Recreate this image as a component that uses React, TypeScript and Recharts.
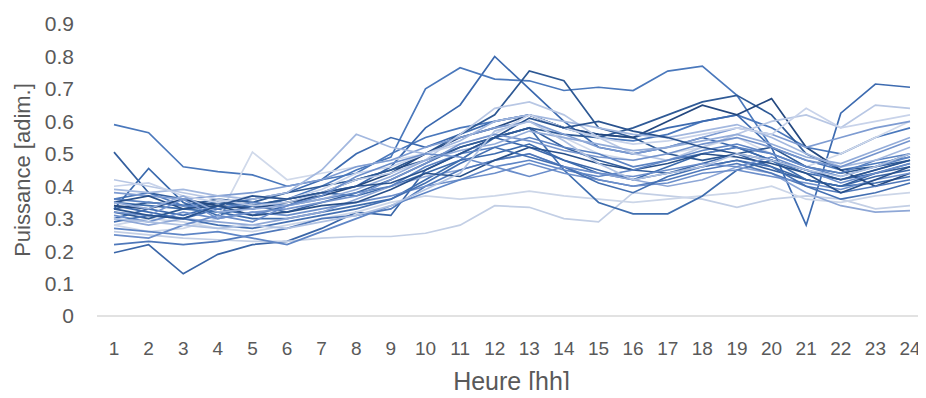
import { LineChart, Line, XAxis, YAxis, Label } from "recharts";

const hours = ["1", "2", "3", "4", "5", "6", "7", "8", "9", "10", "11", "12", "13", "14", "15", "16", "17", "18", "19", "20", "21", "22", "23", "24"];
const yTicks = [0, 0.1, 0.2, 0.3, 0.4, 0.5, 0.6, 0.7, 0.8, 0.9];

const s1 = [0.59, 0.565, 0.46, 0.445, 0.435, 0.40, 0.42, 0.44, 0.50, 0.55, 0.58, 0.60, 0.62, 0.58, 0.55, 0.54, 0.56, 0.60, 0.62, 0.58, 0.52, 0.50, 0.55, 0.58];
const s2 = [0.195, 0.22, 0.13, 0.19, 0.22, 0.23, 0.27, 0.32, 0.31, 0.45, 0.50, 0.55, 0.52, 0.48, 0.45, 0.42, 0.44, 0.47, 0.50, 0.46, 0.42, 0.40, 0.43, 0.45];
const s3 = [0.34, 0.32, 0.30, 0.33, 0.31, 0.34, 0.38, 0.40, 0.46, 0.58, 0.65, 0.80, 0.70, 0.60, 0.52, 0.50, 0.52, 0.55, 0.52, 0.48, 0.45, 0.42, 0.44, 0.47];
const s4 = [0.36, 0.38, 0.34, 0.35, 0.33, 0.36, 0.40, 0.45, 0.49, 0.70, 0.765, 0.73, 0.725, 0.695, 0.705, 0.695, 0.755, 0.77, 0.68, 0.52, 0.48, 0.45, 0.47, 0.49];
const s5 = [0.30, 0.33, 0.31, 0.34, 0.36, 0.38, 0.42, 0.50, 0.55, 0.52, 0.56, 0.60, 0.62, 0.58, 0.56, 0.55, 0.58, 0.60, 0.62, 0.52, 0.28, 0.625, 0.715, 0.705];
const s6 = [0.505, 0.38, 0.36, 0.33, 0.34, 0.32, 0.35, 0.38, 0.42, 0.47, 0.52, 0.55, 0.58, 0.52, 0.48, 0.45, 0.44, 0.46, 0.48, 0.45, 0.42, 0.40, 0.44, 0.46];
const s7 = [0.33, 0.455, 0.35, 0.31, 0.34, 0.36, 0.38, 0.37, 0.40, 0.44, 0.48, 0.50, 0.53, 0.48, 0.44, 0.42, 0.46, 0.50, 0.52, 0.48, 0.44, 0.42, 0.45, 0.48];
const s8 = [0.28, 0.26, 0.27, 0.30, 0.505, 0.42, 0.44, 0.46, 0.48, 0.50, 0.55, 0.58, 0.60, 0.55, 0.50, 0.48, 0.50, 0.52, 0.55, 0.50, 0.46, 0.50, 0.55, 0.60];
const s9 = [0.26, 0.25, 0.24, 0.235, 0.23, 0.23, 0.24, 0.245, 0.245, 0.255, 0.28, 0.34, 0.335, 0.30, 0.29, 0.38, 0.37, 0.36, 0.335, 0.36, 0.37, 0.36, 0.33, 0.34];
const s10 = [0.28, 0.30, 0.29, 0.27, 0.26, 0.28, 0.30, 0.32, 0.35, 0.37, 0.36, 0.37, 0.385, 0.37, 0.36, 0.35, 0.36, 0.37, 0.38, 0.40, 0.36, 0.35, 0.37, 0.38];
const s11 = [0.35, 0.34, 0.33, 0.32, 0.30, 0.30, 0.32, 0.34, 0.36, 0.42, 0.48, 0.55, 0.58, 0.45, 0.35, 0.315, 0.315, 0.37, 0.45, 0.48, 0.42, 0.40, 0.41, 0.43];
const s12 = [0.32, 0.30, 0.33, 0.35, 0.34, 0.36, 0.38, 0.42, 0.45, 0.50, 0.56, 0.62, 0.755, 0.725, 0.58, 0.55, 0.50, 0.48, 0.50, 0.52, 0.46, 0.44, 0.46, 0.50];
const s13 = [0.33, 0.35, 0.34, 0.36, 0.35, 0.38, 0.40, 0.42, 0.45, 0.48, 0.52, 0.55, 0.58, 0.56, 0.55, 0.58, 0.62, 0.66, 0.68, 0.62, 0.50, 0.45, 0.46, 0.48];
const s14 = [0.34, 0.33, 0.36, 0.34, 0.33, 0.35, 0.37, 0.40, 0.44, 0.50, 0.55, 0.58, 0.62, 0.58, 0.56, 0.55, 0.60, 0.65, 0.62, 0.67, 0.52, 0.45, 0.40, 0.44];
const s15 = [0.30, 0.28, 0.30, 0.29, 0.28, 0.30, 0.32, 0.36, 0.40, 0.43, 0.45, 0.48, 0.50, 0.46, 0.44, 0.42, 0.40, 0.42, 0.46, 0.44, 0.38, 0.34, 0.32, 0.325];
const s16 = [0.36, 0.35, 0.34, 0.33, 0.35, 0.34, 0.36, 0.38, 0.40, 0.46, 0.50, 0.52, 0.55, 0.52, 0.50, 0.46, 0.48, 0.50, 0.52, 0.50, 0.46, 0.44, 0.48, 0.50];
const s17 = [0.22, 0.23, 0.22, 0.23, 0.25, 0.27, 0.30, 0.31, 0.33, 0.40, 0.45, 0.48, 0.50, 0.46, 0.42, 0.40, 0.42, 0.45, 0.47, 0.44, 0.40, 0.38, 0.40, 0.42];
const s18 = [0.38, 0.37, 0.36, 0.37, 0.38, 0.40, 0.42, 0.46, 0.48, 0.52, 0.55, 0.58, 0.60, 0.56, 0.52, 0.50, 0.52, 0.55, 0.58, 0.56, 0.52, 0.55, 0.58, 0.60];
const s19 = [0.42, 0.40, 0.38, 0.36, 0.34, 0.35, 0.38, 0.42, 0.44, 0.48, 0.56, 0.64, 0.66, 0.62, 0.55, 0.50, 0.48, 0.52, 0.56, 0.60, 0.62, 0.58, 0.65, 0.64];
const s20 = [0.31, 0.29, 0.32, 0.30, 0.32, 0.31, 0.33, 0.35, 0.37, 0.40, 0.42, 0.44, 0.47, 0.44, 0.42, 0.40, 0.41, 0.44, 0.45, 0.43, 0.41, 0.39, 0.42, 0.44];
const s21 = [0.35, 0.37, 0.33, 0.34, 0.31, 0.32, 0.34, 0.35, 0.39, 0.44, 0.43, 0.48, 0.52, 0.50, 0.47, 0.45, 0.47, 0.50, 0.49, 0.47, 0.44, 0.38, 0.42, 0.46];
const s22 = [0.27, 0.26, 0.25, 0.26, 0.24, 0.22, 0.26, 0.30, 0.34, 0.38, 0.42, 0.46, 0.48, 0.45, 0.43, 0.45, 0.48, 0.51, 0.53, 0.50, 0.46, 0.43, 0.46, 0.49];
const s23 = [0.39, 0.38, 0.39, 0.37, 0.36, 0.38, 0.45, 0.56, 0.52, 0.50, 0.54, 0.60, 0.62, 0.60, 0.58, 0.56, 0.55, 0.57, 0.59, 0.55, 0.50, 0.46, 0.48, 0.52];
const s24 = [0.40, 0.41, 0.37, 0.35, 0.37, 0.36, 0.39, 0.44, 0.46, 0.50, 0.53, 0.56, 0.62, 0.58, 0.55, 0.53, 0.54, 0.56, 0.58, 0.56, 0.64, 0.58, 0.60, 0.62];
const s25 = [0.29, 0.31, 0.30, 0.28, 0.27, 0.29, 0.31, 0.33, 0.36, 0.41, 0.47, 0.52, 0.49, 0.46, 0.41, 0.38, 0.43, 0.46, 0.48, 0.46, 0.40, 0.36, 0.38, 0.41];
const s26 = [0.32, 0.31, 0.36, 0.30, 0.32, 0.33, 0.35, 0.37, 0.42, 0.47, 0.53, 0.56, 0.54, 0.51, 0.49, 0.48, 0.50, 0.53, 0.55, 0.52, 0.48, 0.46, 0.50, 0.54];
const s27 = [0.35, 0.33, 0.37, 0.32, 0.33, 0.34, 0.36, 0.39, 0.43, 0.48, 0.51, 0.53, 0.57, 0.55, 0.53, 0.51, 0.52, 0.54, 0.56, 0.53, 0.49, 0.47, 0.51, 0.55];
const s28 = [0.33, 0.31, 0.30, 0.34, 0.37, 0.36, 0.38, 0.40, 0.41, 0.45, 0.50, 0.55, 0.61, 0.58, 0.60, 0.57, 0.55, 0.52, 0.50, 0.48, 0.45, 0.42, 0.45, 0.48];
const s29 = [0.25, 0.24, 0.28, 0.31, 0.29, 0.34, 0.37, 0.43, 0.47, 0.50, 0.49, 0.46, 0.43, 0.46, 0.44, 0.43, 0.45, 0.47, 0.46, 0.49, 0.45, 0.41, 0.44, 0.47];
const s30 = [0.30, 0.29, 0.28, 0.27, 0.28, 0.27, 0.29, 0.31, 0.34, 0.39, 0.44, 0.57, 0.60, 0.54, 0.47, 0.42, 0.44, 0.46, 0.50, 0.48, 0.45, 0.43, 0.46, 0.50];

const series = [s1, s2, s3, s4, s5, s6, s7, s8, s9, s10, s11, s12, s13, s14, s15, s16, s17, s18, s19, s20, s21, s22, s23, s24, s25, s26, s27, s28, s29, s30];
const colors = [
  "#4a78bc", "#3a66a8", "#3a68ae", "#4a78bc", "#3d6bb0", "#345f9e", "#3b6aad", "#d0d9ea", "#c3cfe5", "#ccd6e8",
  "#3e6dae", "#2d5893", "#2f5a96", "#24487f", "#8ea7d6", "#5a82c2", "#4f78ba", "#7e9cd2", "#b8c7e4", "#6c8fcb",
  "#28508a", "#5f86c6", "#a3b8df", "#c8d3ea", "#4470b2", "#7494cd", "#93acd9", "#2a538f", "#6a8dca", "#b0c2e2",
];

const data = hours.map((h, i) => {
  const row: Record<string, string | number> = { hour: h };
  series.forEach((s, k) => {
    row["s" + (k + 1)] = s[i];
  });
  return row;
});

const FONT = "'Liberation Sans', Arial, sans-serif";
const GREY = "#595959";

function XTitle(props: any) {
  const { viewBox } = props;
  const cx = viewBox.x + viewBox.width / 2;
  return (
    <text x={cx} y={390} textAnchor="middle" fill={GREY} fontSize={25} fontFamily={FONT}>
      Heure [hh]
    </text>
  );
}

export default function App() {
  return (
    <div style={{ margin: -8, background: "#fff", width: 926, height: 398 }}>
      <LineChart width={926} height={398} data={data} margin={{ top: 24, right: 0, bottom: 0, left: 0 }}>
        <XAxis
          dataKey="hour"
          height={82}
          padding={{ left: 17, right: 16 }}
          axisLine={{ stroke: "#d9d9d9", strokeWidth: 1.5 }}
          tickLine={false}
          tickSize={0}
          tickMargin={26}
          interval={0}
          tick={{ fill: GREY, fontSize: 19, fontFamily: FONT }}
        >
          <Label content={<XTitle />} />
        </XAxis>
        <YAxis
          width={97}
          domain={[0, 0.9]}
          ticks={yTicks}
          axisLine={false}
          tickLine={false}
          tickSize={0}
          tickMargin={23}
          tick={{ fill: GREY, fontSize: 21, fontFamily: FONT }}
          label={{ value: "Puissance [adim.]", angle: -90, position: "insideLeft", offset: 22, fill: GREY, fontSize: 22, fontFamily: FONT, style: { textAnchor: "middle" } }}
        />
        {series.map((_, k) => (
          <Line
            key={k}
            dataKey={"s" + (k + 1)}
            stroke={colors[k]}
            strokeWidth={1.7}
            dot={false}
            isAnimationActive={false}
          />
        ))}
      </LineChart>
    </div>
  );
}
